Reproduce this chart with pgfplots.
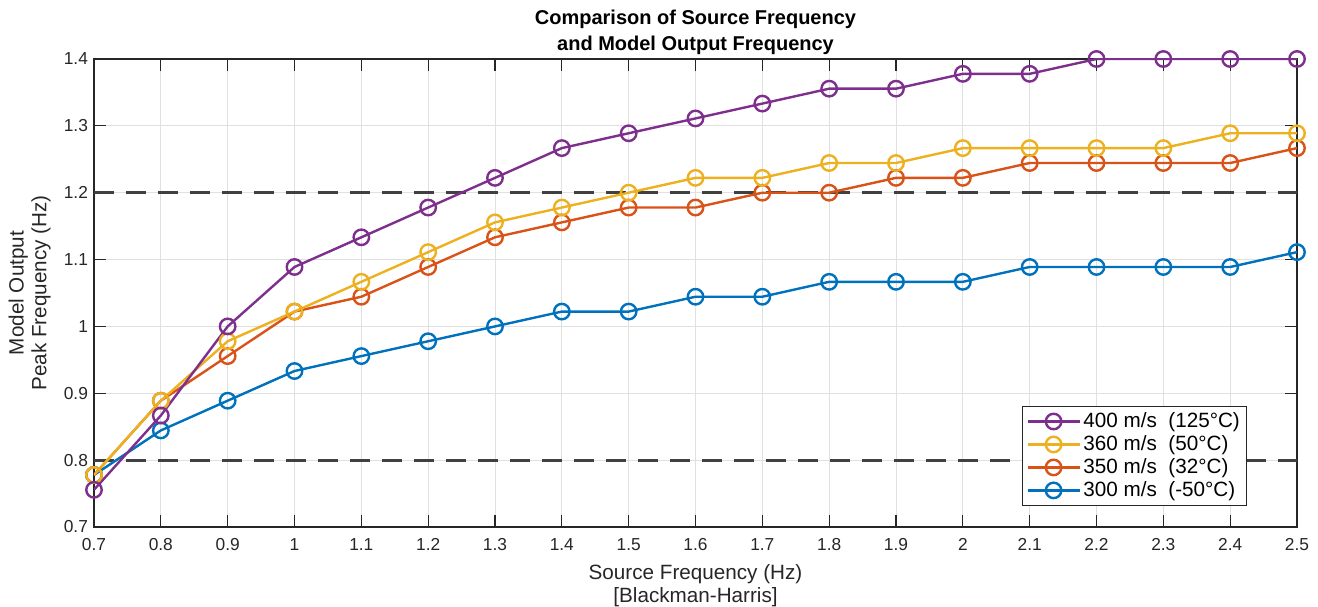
\documentclass[border=0pt]{standalone}
\usepackage{fontspec}
\setmainfont{Liberation Sans}
\usepackage{pgfplots}
\pgfplotsset{compat=1.18}
\definecolor{mblue}{rgb}{0,0.447,0.741}
\definecolor{morange}{rgb}{0.85,0.325,0.098}
\definecolor{myellow}{rgb}{0.929,0.694,0.125}
\definecolor{mpurple}{rgb}{0.494,0.184,0.556}
\definecolor{axgray}{rgb}{0.15,0.15,0.15}
\definecolor{gridgray}{rgb}{0.88,0.88,0.88}
\definecolor{dashgray}{rgb}{0.25,0.25,0.25}
\begin{document}
\begin{tikzpicture}
\begin{axis}[
  scale only axis, width=902.25pt, height=351pt,
  xmin=0.7, xmax=2.5, ymin=0.7, ymax=1.4,
  xtick={0.7,0.8,0.9,1,1.1,1.2,1.3,1.4,1.5,1.6,1.7,1.8,1.9,2,2.1,2.2,2.3,2.4,2.5},
  xticklabels={0.7,0.8,0.9,1,1.1,1.2,1.3,1.4,1.5,1.6,1.7,1.8,1.9,2,2.1,2.2,2.3,2.4,2.5},
  ytick={0.7,0.8,0.9,1,1.1,1.2,1.3,1.4},
  yticklabels={0.7,0.8,0.9,1,1.1,1.2,1.3,1.4},
  grid=major, major grid style={gridgray, line width=0.6pt},
  tick align=inside, major tick length=9pt,
  axis line style={axgray, line width=0.8pt},
  every tick/.style={axgray, line width=0.8pt},
  ticklabel style={font=\fontsize{13}{15}\selectfont, text=axgray},
  xticklabel style={yshift=-5pt},
  yticklabel style={xshift=-1pt},
  xlabel={Source Frequency (Hz)\\{[Blackman-Harris]}},
  xlabel style={align=center, font=\fontsize{15.5}{17.5}\selectfont, text=axgray, yshift=-3.5pt},
  ylabel={Model Output\\Peak Frequency (Hz)},
  ylabel style={align=center, font=\fontsize{15.5}{17}\selectfont, text=axgray},
  ylabel shift=3pt,
  title={Comparison of Source Frequency\\and Model Output Frequency},
  title style={align=center, font=\bfseries\fontsize{15}{19}\selectfont, yshift=-6pt},
  legend style={at={(0.9584,0.0449)}, anchor=south east, draw=axgray, line width=0.6pt,
    font=\fontsize{15.5}{18}\selectfont, row sep=0.5pt, inner sep=3pt},
  legend cell align=left,
  reverse legend,
  legend image code/.code={\draw[#1, mark repeat=2, mark phase=2] plot coordinates {(0pt,0pt) (19.5pt,0pt) (39pt,0pt)};},
  every axis plot/.append style={line width=1.8pt, mark=o, mark size=5.8pt, mark options={solid, line width=1.8pt}},
]
\addplot[dashgray, line width=2.2pt, dash pattern=on 15pt off 9pt, mark=none, forget plot] coordinates {(0.7,0.8) (2.5,0.8)};
\addplot[dashgray, line width=2.2pt, dash pattern=on 15pt off 9pt, mark=none, forget plot] coordinates {(0.7,1.2) (2.5,1.2)};
\addplot[mblue] coordinates {
(0.7,0.7778) (0.8,0.8444) (0.9,0.8889) (1.0,0.9333) (1.1,0.9556) (1.2,0.9778) (1.3,1.0) (1.4,1.0222) (1.5,1.0222) (1.6,1.0444) (1.7,1.0444) (1.8,1.0667) (1.9,1.0667) (2.0,1.0667) (2.1,1.0889) (2.2,1.0889) (2.3,1.0889) (2.4,1.0889) (2.5,1.1111)};
\addlegendentry{300 m/s\ \ (-50°C)}
\addplot[morange] coordinates {
(0.7,0.7778) (0.8,0.8889) (0.9,0.9556) (1.0,1.0222) (1.1,1.0444) (1.2,1.0889) (1.3,1.1333) (1.4,1.1556) (1.5,1.1778) (1.6,1.1778) (1.7,1.2) (1.8,1.2) (1.9,1.2222) (2.0,1.2222) (2.1,1.2444) (2.2,1.2444) (2.3,1.2444) (2.4,1.2444) (2.5,1.2667)};
\addlegendentry{350 m/s\ \ (32°C)}
\addplot[myellow] coordinates {
(0.7,0.7778) (0.8,0.8889) (0.9,0.9778) (1.0,1.0222) (1.1,1.0667) (1.2,1.1111) (1.3,1.1556) (1.4,1.1778) (1.5,1.2) (1.6,1.2222) (1.7,1.2222) (1.8,1.2444) (1.9,1.2444) (2.0,1.2667) (2.1,1.2667) (2.2,1.2667) (2.3,1.2667) (2.4,1.2889) (2.5,1.2889)};
\addlegendentry{360 m/s\ \ (50°C)}
\addplot[mpurple] coordinates {
(0.7,0.7556) (0.8,0.8667) (0.9,1.0) (1.0,1.0889) (1.1,1.1333) (1.2,1.1778) (1.3,1.2222) (1.4,1.2667) (1.5,1.2889) (1.6,1.3111) (1.7,1.3333) (1.8,1.3556) (1.9,1.3556) (2.0,1.3778) (2.1,1.3778) (2.2,1.4) (2.3,1.4) (2.4,1.4) (2.5,1.4)};
\addlegendentry{400 m/s\ \ (125°C)}
\coordinate (bl) at (rel axis cs:0,0);
\coordinate (tr) at (rel axis cs:1,1);
\end{axis}
\pgfresetboundingbox
\path[use as bounding box] ([shift={(-70.5pt,-60pt)}]bl) rectangle ([shift={(15.75pt,44.25pt)}]tr);
\end{tikzpicture}
\end{document}
